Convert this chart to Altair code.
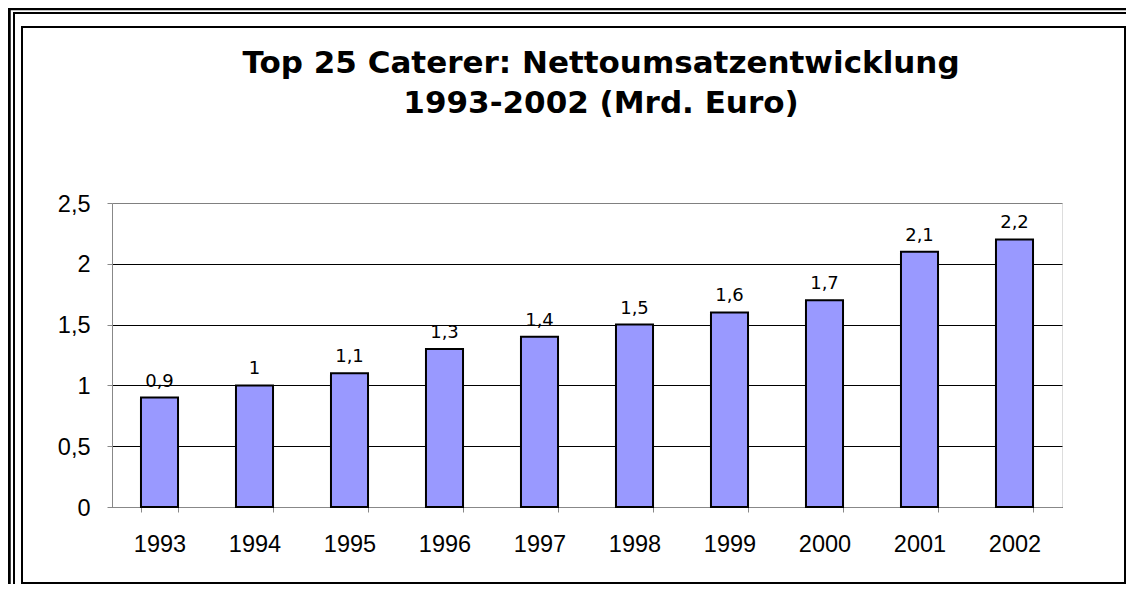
import altair as alt
import pandas as pd

years = ["1993", "1994", "1995", "1996", "1997", "1998", "1999", "2000", "2001", "2002"]
values = [0.9, 1.0, 1.1, 1.3, 1.4, 1.5, 1.6, 1.7, 2.1, 2.2]
y_ticks = [0, 0.5, 1, 1.5, 2, 2.5]
title_lines = ["Top 25 Caterer: Nettoumsatzentwicklung", "1993-2002 (Mrd. Euro)"]

df = pd.DataFrame({"year": years, "value": values})
one = pd.DataFrame({"k": [0]})

FONT = "DejaVu Sans"

x_enc = alt.X(
    "year:N",
    sort=years,
    scale=alt.Scale(paddingInner=0.61, paddingOuter=0.305),
    axis=alt.Axis(
        title=None, labelAngle=0, tickBand="extent", grid=False,
        labelPadding=20, labelFontSize=23.5,
    ),
)
y_enc = alt.Y(
    "value:Q",
    scale=alt.Scale(domain=[0, 2.5], nice=False),
    axis=alt.Axis(
        title=None, values=y_ticks, grid=True,
        gridColor={"condition": {"test": "datum.value >= 2.5", "value": "#808080"}, "value": "black"},
        labelExpr="replace(format(datum.value, '.1~f'), '.', ',')",
        labelPadding=17, labelOffset=1, labelFontSize=23.5,
    ),
)

frame_outer = alt.Chart(one).mark_rect(filled=False, stroke="black", strokeWidth=3.5).encode(
    x=alt.value(-103), x2=alt.value(1300), y=alt.value(-194.5), y2=alt.value(600)
)
frame_mid = alt.Chart(one).mark_rect(filled=False, stroke="black", strokeWidth=2).encode(
    x=alt.value(-98), x2=alt.value(1300), y=alt.value(-190), y2=alt.value(600)
)
frame_inner = alt.Chart(one).mark_rect(filled=False, stroke="black", strokeWidth=2).encode(
    x=alt.value(-90), x2=alt.value(1013), y=alt.value(-176), y2=alt.value(380)
)

title = alt.Chart(one).mark_text(
    text=title_lines, font=FONT, fontSize=31, fontWeight="bold", lineHeight=40,
    align="center", baseline="alphabetic", color="black",
).encode(x=alt.value(489), y=alt.value(-130))

bars = alt.Chart(df).mark_bar(fill="#9999FF", stroke="black", strokeWidth=2).encode(
    x=x_enc, y=y_enc
)

labels = alt.Chart(df).transform_calculate(
    label="replace(format(datum.value, '.1~f'), '.', ',')"
).mark_text(
    baseline="alphabetic", dy=-11, fontSize=18, font=FONT, color="black"
).encode(x=alt.X("year:N", sort=years), y="value:Q", text="label:N")

chart = alt.layer(frame_outer, frame_mid, frame_inner, title, bars, labels).properties(
    width=950,
    height=304,
    autosize=alt.AutoSizeParams(type="none"),
    padding={"left": 104, "top": 195, "right": 64, "bottom": 77},
).configure_view(
    stroke="#808080", strokeWidth=1.5
).configure_axis(
    domainColor="black", domainWidth=2, tickColor="black", tickWidth=1.5,
    tickSize=9, gridWidth=1.2, labelFont=FONT, labelColor="black",
).configure(background="white")

chart.save("out.html", embed_options={"renderer": "svg", "actions": False})
